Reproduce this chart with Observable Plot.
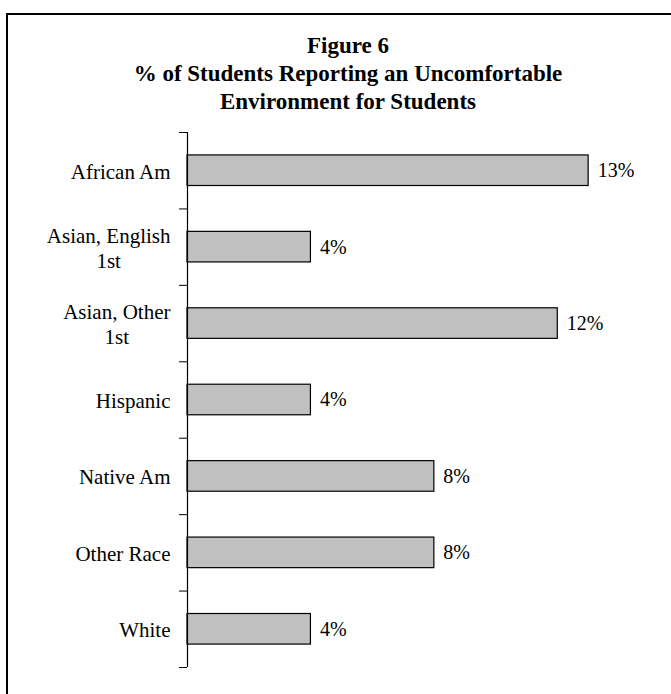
<!DOCTYPE html>
<html>
<head>
<meta charset="utf-8">
<script src="https://cdn.jsdelivr.net/npm/d3@7"></script>
<script src="https://cdn.jsdelivr.net/npm/@observablehq/plot@0.6"></script>
<style>
  html, body { margin: 0; padding: 0; background: #fff; }
  #page { position: relative; width: 671px; height: 694px; overflow: hidden; }
  #frame { position: absolute; left: 5.5px; top: 12.5px; width: 720px; height: 720px;
           border-top: 2.5px solid #000; border-left: 2.5px solid #000; box-sizing: border-box; }
  #title { position: absolute; left: 48px; width: 600px; top: 32px; text-align: center;
           font-family: "Liberation Serif", "Times New Roman", serif; font-weight: bold;
           font-size: 23px; line-height: 28px; color: #000; }
  #chart { position: absolute; left: 0; top: 0; }
</style>
</head>
<body>
<div id="page">
  <div id="frame"></div>
  <div id="chart"></div>
  <div id="title">Figure 6<br>% of Students Reporting an Uncomfortable<br>Environment for Students</div>
</div>
<script>
const categories = ["African Am", "Asian, English\n1st", "Asian, Other\n1st", "Hispanic", "Native Am", "Other Race", "White"];
const values = [13, 4, 12, 4, 8, 8, 4];
const valueLabels = ["13%", "4%", "12%", "4%", "8%", "8%", "4%"];

const rows = categories.map((c, i) => ({cat: c, idx: i, value: values[i], label: valueLabels[i]}));
const half = 0.2; // half bar thickness in band units
const boundaries = d3.range(categories.length + 1).map(i => i - 0.5);

const font = "'Liberation Serif', 'Times New Roman', serif";

const chart = Plot.plot({
  width: 671,
  height: 694,
  marginTop: 132,
  marginBottom: 27,
  marginLeft: 187,
  marginRight: 52,
  style: {fontFamily: font, fontSize: "20px", color: "#000", background: "transparent"},
  x: {domain: [0, 14], axis: null},
  y: {domain: [-0.5, categories.length - 0.5], reverse: true, axis: null},
  marks: [
    Plot.rectX(rows, {
      x1: 0, x2: "value",
      y1: d => d.idx - half, y2: d => d.idx + half,
      fill: "#c0c0c0", stroke: "#000", strokeWidth: 1.2
    }),
    Plot.axisY({ticks: boundaries, tickSize: 8, tickFormat: () => "", label: null, stroke: "#000", strokeOpacity: 1, anchor: "left"}),
    Plot.ruleX([0], {stroke: "#000", strokeWidth: 1.2}),
    Plot.text(rows, {
      x: 0, y: "idx", text: "cat", textAnchor: "end", dx: -17,
      fontSize: 21, lineHeight: 1.19, fill: "#000", className: "catlabel"
    }),
    Plot.text(rows, {
      x: "value", y: "idx", text: "label", textAnchor: "start", dx: 9,
      fontSize: 20, fill: "#000"
    })
  ]
});
document.getElementById("chart").appendChild(chart);

// center multi-line category labels within their right-aligned block
chart.querySelectorAll(".catlabel text").forEach(t => {
  const spans = t.querySelectorAll("tspan");
  if (spans.length > 1) {
    let w = 0;
    spans.forEach(s => { w = Math.max(w, s.getComputedTextLength()); });
    t.setAttribute("text-anchor", "middle");
    spans.forEach(s => s.setAttribute("x", -w / 2));
  }
});
</script>
</body>
</html>
